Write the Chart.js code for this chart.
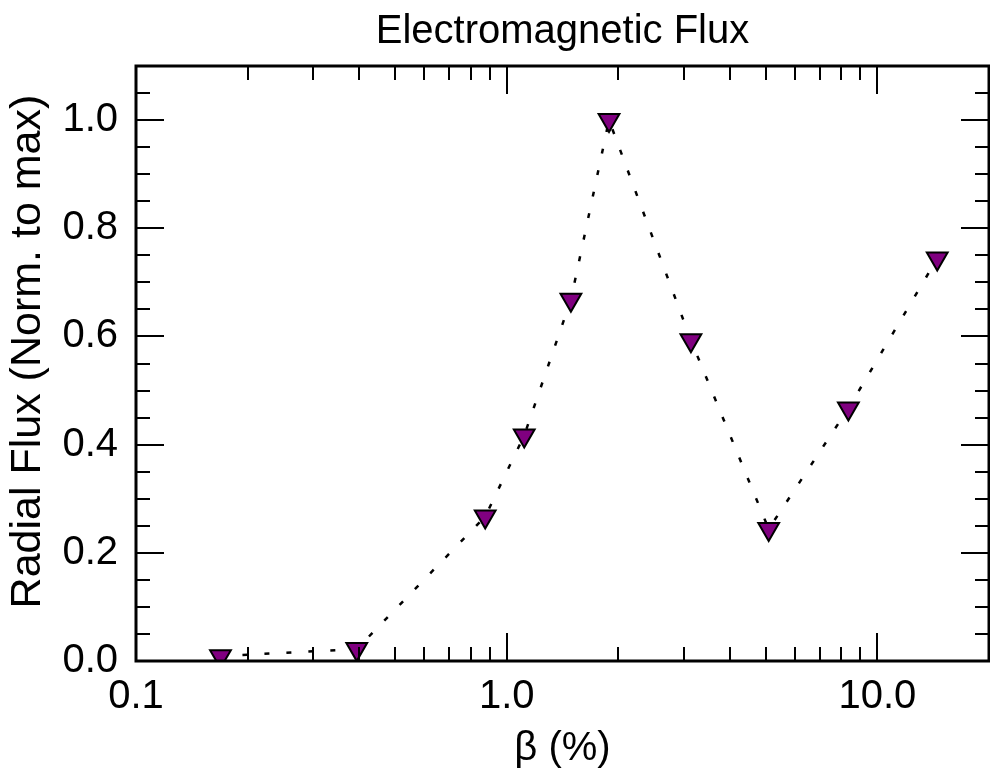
<!DOCTYPE html>
<html>
<head>
<meta charset="utf-8">
<script src="https://cdn.jsdelivr.net/npm/chart.js@4.4.0/dist/chart.umd.min.js"></script>
<style>
  html, body { margin: 0; padding: 0; background: #fff; }
</style>
</head>
<body>
<canvas id="fluxChart" width="990" height="774"></canvas>
<script>
// DATA
const beta = [0.169, 0.394, 0.875, 1.115, 1.49, 1.888, 3.14, 5.09, 8.35, 14.5];
const flux = [0.009, 0.022, 0.267, 0.417, 0.668, 1.0, 0.593, 0.244, 0.467, 0.744];
const xTicks = [0.1, 1, 10];
const xTickLabels = ['0.1', '1.0', '10.0'];
const yTicks = [0, 0.2, 0.4, 0.6, 0.8, 1.0];
const yTickLabels = ['0.0', '0.2', '0.4', '0.6', '0.8', '1.0'];

const FONT = "'Liberation Sans', Arial, Helvetica, sans-serif";

// box + inward ticks like the IDL plot
const frameTicks = {
  id: 'frameTicks',
  afterDatasetsDraw(chart) {
    const { ctx, chartArea: a, scales: { x, y } } = chart;
    ctx.save();
    ctx.strokeStyle = '#000';
    ctx.lineWidth = 2;
    ctx.beginPath();
    for (let d = 0.1; d < 20; d *= 10) {
      for (let k = 1; k <= 9; k++) {
        const v = d * k;
        if (v > 20.0001) break;
        const px = Math.round(x.getPixelForValue(v));
        const len = k === 1 ? 28 : 14;
        ctx.moveTo(px, a.bottom); ctx.lineTo(px, a.bottom - len);
        ctx.moveTo(px, a.top); ctx.lineTo(px, a.top + len);
      }
    }
    for (let i = 0; i <= 22; i++) {
      const py = Math.round(y.getPixelForValue(i * 0.05));
      const len = i % 4 === 0 ? 28 : 14;
      ctx.moveTo(a.left, py); ctx.lineTo(a.left + len, py);
      ctx.moveTo(a.right, py); ctx.lineTo(a.right - len, py);
    }
    ctx.stroke();
    ctx.lineWidth = 3;
    ctx.strokeRect(a.left, a.top, a.right - a.left, a.bottom - a.top);
    ctx.restore();
  }
};

new Chart(document.getElementById('fluxChart').getContext('2d'), {
  type: 'scatter',
  data: {
    datasets: [{
      data: beta.map((b, i) => ({ x: b, y: flux[i] })),
      showLine: true,
      borderColor: '#000',
      borderWidth: 2.5,
      borderDash: [5, 17],
      pointStyle: 'triangle',
      rotation: 180,
      pointRadius: 12,
      pointHoverRadius: 12,
      pointBackgroundColor: '#800080',
      pointBorderColor: '#000',
      pointBorderWidth: 2,
      clip: 0
    }]
  },
  options: {
    responsive: false,
    animation: false,
    devicePixelRatio: 1,
    layout: { autoPadding: false, padding: { left: 0, right: 1, top: 0, bottom: 0 } },
    plugins: {
      legend: { display: false },
      tooltip: { enabled: false },
      title: {
        display: true,
        fullSize: false,
        text: 'Electromagnetic Flux',
        color: '#000',
        font: { family: FONT, size: 40, weight: 'normal', lineHeight: 1.2 },
        padding: { top: 8, bottom: 10 }
      }
    },
    scales: {
      x: {
        type: 'logarithmic',
        min: 0.1, max: 20,
        grid: { display: false },
        border: { display: false },
        afterBuildTicks: s => { s.ticks = xTicks.map(v => ({ value: v })); },
        afterFit: s => { s.height = 113; s.paddingLeft = 0; s.paddingRight = 0; },
        ticks: {
          callback: (v, i) => xTickLabels[i],
          color: '#000',
          font: { family: FONT, size: 40 },
          padding: 4,
          maxRotation: 0,
          autoSkip: false
        },
        title: {
          display: true,
          text: 'β (%)',
          color: '#000',
          font: { family: FONT, size: 40, lineHeight: 1.2 },
          padding: { top: 0, bottom: 1 }
        }
      },
      y: {
        min: 0, max: 1.1,
        grid: { display: false, drawTicks: false },
        border: { display: false },
        afterBuildTicks: s => { s.ticks = yTicks.map(v => ({ value: v })); },
        afterFit: s => { s.width = 136; s.paddingTop = 0; s.paddingBottom = 0; },
        ticks: {
          callback: (v, i) => yTickLabels[i],
          color: '#000',
          font: { family: FONT, size: 40 },
          padding: 18
        },
        title: {
          display: true,
          // leading spaces nudge the centred label up, as in the original
          text: '  Radial Flux (Norm. to max)',
          color: '#000',
          font: { family: FONT, size: 43, lineHeight: 1.2 },
          padding: { top: 2, bottom: 0 }
        }
      }
    }
  },
  plugins: [frameTicks]
});
</script>
</body>
</html>
